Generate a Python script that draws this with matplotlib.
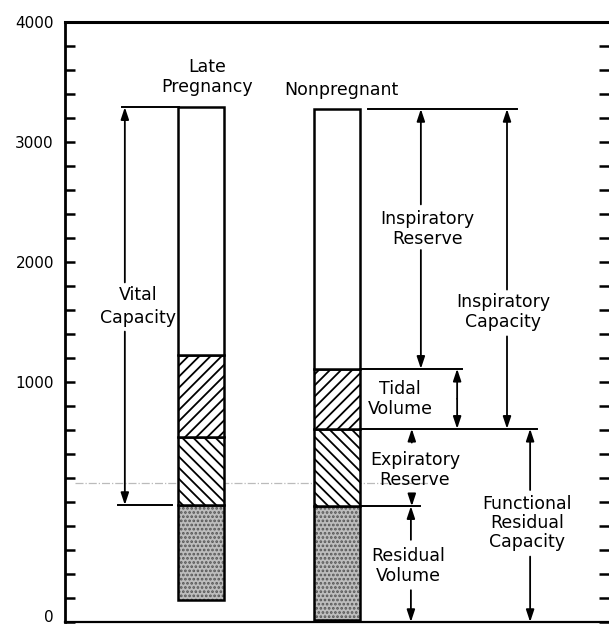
import matplotlib.pyplot as plt
import numpy as np

plt.rcParams['font.family'] = ['DejaVu Sans']
plt.rcParams['hatch.linewidth'] = 1.3

# lung volume boundaries (ml, schematic scale): bottom, RV top, ERV top, tidal top, TLC
groups = ['Late\nPregnancy', 'Nonpregnant']
bounds_late = [180, 975, 1540, 2225, 4290]
bounds_non = [20, 965, 1610, 2110, 4275]
bar_x = [3.0, 6.0]

tick_pos = [0, 2000, 3000, 4000, 5000]
tick_labels = ['0', '1000', '2000', '3000', '4000']

fig = plt.figure(figsize=(6.09, 6.27), dpi=100)
ax = fig.add_axes([65 / 609, 5 / 627, 544 / 609, 600 / 627])
ax.set_xlim(0, 12)
ax.set_ylim(0, 5000)

# bars: residual (stipple), expiratory reserve (\\), tidal (//), inspiratory reserve (open)
seg_face = ['#bdbdbd', 'white', 'white', 'white']
seg_hatch = ['....', '\\\\\\', '///', None]
seg_hcolor = ['#555555', 'black', 'black', 'black']
for xc, b in zip(bar_x, [bounds_late, bounds_non]):
    for i in range(4):
        ax.bar(xc, b[i + 1] - b[i], bottom=b[i], width=1.0, facecolor=seg_face[i],
               edgecolor=seg_hcolor[i], hatch=seg_hatch[i], linewidth=0, zorder=3)
        ax.bar(xc, b[i + 1] - b[i], bottom=b[i], width=1.0, facecolor='none',
               edgecolor='black', linewidth=1.8, zorder=3)

fs = 12.5
ax.text(3.13, 4540, groups[0], ha='center', va='center', fontsize=fs, linespacing=1.1)
ax.text(6.09, 4430, groups[1], ha='center', va='center', fontsize=fs)

astyle = dict(arrowstyle='-|>,head_length=0.6,head_width=0.2', lw=1.3, color='black',
              mutation_scale=12, shrinkA=0, shrinkB=0)


def arrow(x, y0, y1):
    ax.annotate('', xy=(x, y1), xytext=(x, y0), arrowprops=astyle, zorder=4)


def hline(y, x0, x1):
    ax.plot([x0, x1], [y, y], color='black', lw=1.4, zorder=4)


# faint dash-dot guide
ax.plot([0.22, 8.05], [1158, 1158], color='#bbbbbb', lw=0.9, ls='-.', zorder=1)

# vital capacity (late pregnancy)
hline(bounds_late[4], 1.26, 2.51)
hline(bounds_late[1], 1.17, 2.36)
arrow(1.32, 2830, bounds_late[4])
arrow(1.32, 2420, bounds_late[1])
ax.text(1.61, 2630, 'Vital\nCapacity', ha='center', va='center', fontsize=fs, linespacing=1.35)

# nonpregnant subdivisions
hline(bounds_non[4], 6.68, 9.97)
hline(bounds_non[3], 6.51, 8.76)
hline(bounds_non[2], 6.55, 10.41)
hline(bounds_non[1], 6.51, 7.83)

arrow(7.85, 3480, bounds_non[4])
arrow(7.85, 3100, bounds_non[3])
ax.text(7.99, 3275, 'Inspiratory\nReserve', ha='center', va='center', fontsize=fs, linespacing=1.1)

arrow(9.75, 2770, bounds_non[4])
arrow(9.75, 2380, bounds_non[2])
ax.text(9.66, 2583, 'Inspiratory\nCapacity', ha='center', va='center', fontsize=fs, linespacing=1.1)

mid = (bounds_non[3] + bounds_non[2]) / 2
arrow(8.65, mid, bounds_non[3])
arrow(8.65, mid, bounds_non[2])
ax.text(7.39, 1858, 'Tidal\nVolume', ha='center', va='center', fontsize=fs, linespacing=1.1)

arrow(7.65, 1495, bounds_non[2])
arrow(7.65, 1065, bounds_non[1])
ax.text(7.72, 1267, 'Expiratory\nReserve', ha='center', va='center', fontsize=fs, linespacing=1.1)

arrow(7.63, 685, bounds_non[1])
arrow(7.63, 265, 0)
ax.text(7.57, 467, 'Residual\nVolume', ha='center', va='center', fontsize=fs, linespacing=1.1)

arrow(10.26, 1100, bounds_non[2])
arrow(10.26, 545, 0)
ax.text(10.19, 825, 'Functional\nResidual\nCapacity', ha='center', va='center', fontsize=fs,
        linespacing=1.1)

# axes styling
ax.set_xticks([])
ax.set_yticks(tick_pos)
ax.set_yticklabels(tick_labels, fontsize=11)
ax.get_yticklabels()[0].set_verticalalignment('baseline')
ax.set_yticks(np.arange(0, 5001, 200), minor=True)
ax.tick_params(axis='y', which='both', direction='in', length=7, width=1.8,
               left=True, right=True, pad=8)
ax.spines['right'].set_visible(False)
ax.spines['left'].set_linewidth(2)
ax.spines['top'].set_linewidth(2.2)
ax.spines['bottom'].set_linewidth(1.6)

fig.savefig('out.png', dpi=100)
